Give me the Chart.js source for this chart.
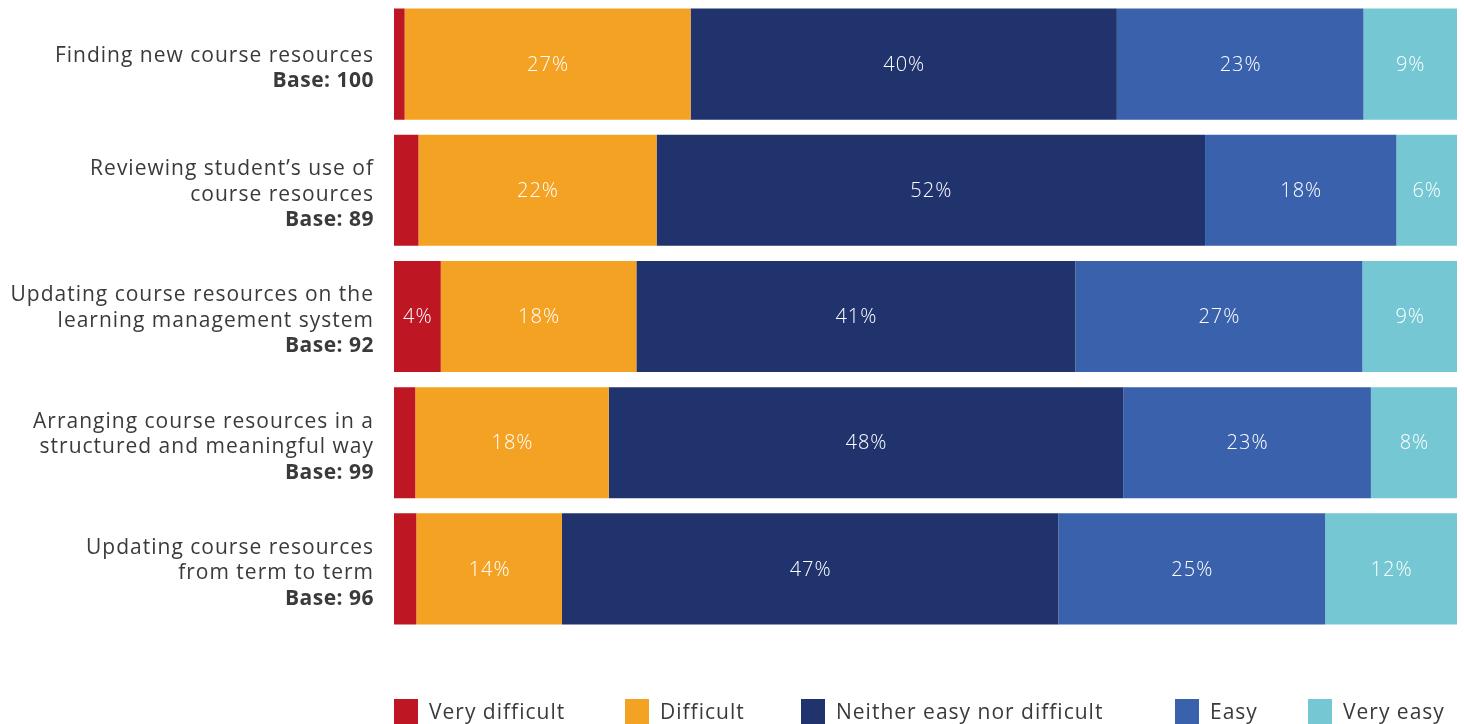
<!DOCTYPE html>
<html>
<head>
<meta charset="utf-8">
<script src="https://cdn.jsdelivr.net/npm/chart.js@4.4.1/dist/chart.umd.min.js"></script>
<style>
    html, body { margin: 0; padding: 0; background: #ffffff; }
    #wrap { position: relative; width: 1464px; height: 724px; }
    #legend { position: absolute; top: 697px; left: 0; width: 1464px; height: 26px;
              font-family: 'Open Sans', sans-serif; font-size: 21px; color: #3a3a3a; letter-spacing: 1px; }
    .item { position: absolute; top: 0; display: flex; align-items: center; white-space: nowrap; }
    .box { width: 24px; height: 25px; margin-right: 11px; }
</style>
</head>
<body>
<div id="wrap">
    <canvas id="chart" width="1464" height="724"></canvas>
    <div id="legend"></div>
</div>
<script>
// ================================================================
//  DATOS
// ================================================================
const categorias = [
    ['Finding new course resources'],
    ['Reviewing student\u2019s use of', 'course resources'],
    ['Updating course resources on the', 'learning management system'],
    ['Arranging course resources in a', 'structured and meaningful way'],
    ['Updating course resources', 'from term to term']
];
const bases = ['Base: 100', 'Base: 89', 'Base: 92', 'Base: 99', 'Base: 96'];

const series = ['Very difficult', 'Difficult', 'Neither easy nor difficult', 'Easy', 'Very easy'];
const muyDificil = [1.0, 2.3, 4.4, 2.0, 2.1];
const dificil    = [26.9, 22.4, 18.4, 18.2, 13.7];
const neutral    = [40.1, 51.6, 41.3, 48.4, 46.7];
const facil      = [23.2, 18.0, 27.0, 23.3, 25.1];
const muyFacil   = [8.8, 5.7, 8.9, 8.1, 12.4];

const colores = ['#BE1622', '#F4A223', '#20336D', '#3A62AC', '#75C8D3'];
// posición horizontal de cada entrada de la leyenda
const legendLeft = [394, 625, 801, 1175, 1308];

const FUENTE = "'Open Sans', sans-serif";

// ================================================================
//  PLUGINS
// ================================================================
// Etiquetas del eje Y (texto normal + línea "Base" en negrita)
const yLabelsPlugin = {
    id: 'yLabels',
    afterDraw(chart) {
        const ctx = chart.ctx;
        const y = chart.scales.y;
        const lh = 25.5;
        ctx.save();
        ctx.fillStyle = '#3a3a3a';
        ctx.textAlign = 'right';
        ctx.textBaseline = 'middle';
        categorias.forEach((lineas, i) => {
            const todas = lineas.concat([bases[i]]);
            const cy = y.getPixelForValue(i) + 4.5;
            const top = cy - (todas.length - 1) * lh / 2;
            todas.forEach((txt, j) => {
                const bold = j === todas.length - 1;
                ctx.font = (bold ? '700 ' : '400 ') + '21px ' + FUENTE;
                ctx.letterSpacing = bold ? '0.5px' : '1px';
                ctx.fillText(txt, 374, top + j * lh);
            });
        });
        ctx.restore();
    }
};

// Porcentajes dentro de las barras
const valueLabelsPlugin = {
    id: 'valueLabels',
    afterDatasetsDraw(chart) {
        const ctx = chart.ctx;
        ctx.save();
        ctx.fillStyle = '#ffffff';
        ctx.textAlign = 'center';
        ctx.textBaseline = 'middle';
        ctx.font = '300 20px ' + FUENTE;
        ctx.letterSpacing = '1px';
        chart.data.datasets.forEach((ds, di) => {
            chart.getDatasetMeta(di).data.forEach((bar, i) => {
                const v = ds.data[i];
                if (v < 3) return;
                const p = bar.getCenterPoint();
                ctx.fillText(Math.round(v) + '%', p.x + 0.5, p.y + 1);
            });
        });
        ctx.restore();
    }
};

// ================================================================
//  GRÁFICO
// ================================================================
const valores = [muyDificil, dificil, neutral, facil, muyFacil];

const chart = new Chart(document.getElementById('chart').getContext('2d'), {
    type: 'bar',
    data: {
        labels: categorias.map(c => c.join(' ')),
        datasets: series.map((s, i) => ({
            label: s,
            data: valores[i],
            backgroundColor: colores[i],
            borderWidth: 0,
            barPercentage: 0.88,
            categoryPercentage: 1
        }))
    },
    options: {
        indexAxis: 'y',
        responsive: false,
        animation: false,
        layout: { padding: { left: 0, right: 7, top: 1, bottom: 92 } },
        plugins: {
            legend: { display: false },
            tooltip: { enabled: false }
        },
        scales: {
            x: {
                stacked: true, min: 0, max: 100,
                display: false
            },
            y: {
                stacked: true,
                grid: { display: false },
                border: { display: false },
                ticks: { display: false },
                afterFit(scale) { scale.width = 394; }
            }
        }
    },
    plugins: [yLabelsPlugin, valueLabelsPlugin]
});

// Leyenda HTML
const legendEl = document.getElementById('legend');
series.forEach((s, i) => {
    const item = document.createElement('div');
    item.className = 'item';
    item.style.left = legendLeft[i] + 'px';
    item.innerHTML = '<span class="box" style="background:' + colores[i] + '"></span><span>' + s + '</span>';
    legendEl.appendChild(item);
});
</script>
</body>
</html>
